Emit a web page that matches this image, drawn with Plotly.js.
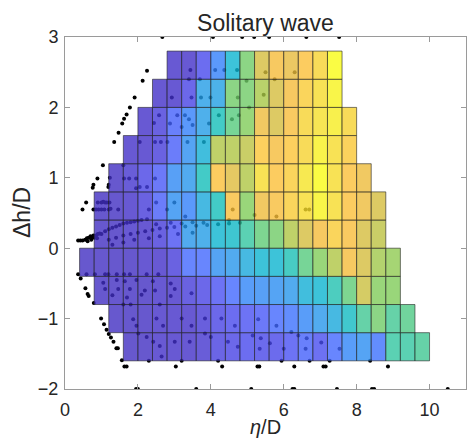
<!DOCTYPE html>
<html><head><meta charset="utf-8">
<script src="https://cdn.plot.ly/plotly-3.0.1.min.js"></script>
<style>html,body{margin:0;padding:0;background:#fff}#chart{width:467px;height:439px}</style>
</head><body><div id="chart"></div>
<script>
// ---- data ----
const xBinCenters = [0.6,1.0,1.4,1.8,2.2,2.6,3.0,3.4,3.8,4.2,4.6,5.0,5.4,5.8,6.2,6.6,7.0,7.4,7.8,8.2,8.6,9.0,9.4,9.8];
const yBinCenters = [-1.4,-1.0,-0.6,-0.2,0.2,0.6,1.0,1.4,1.8,2.2,2.6];
const N = null;
const cellValues = [
  [N,N,N,0.04,0.04,0.05,0.05,0.05,0.06,0.09,0.1,0.12,0.11,0.11,0.14,0.18,0.13,0.2,0.26,0.28,0.22,0.5,0.5,0.52],
  [N,N,0.04,0.04,0.04,0.05,0.05,0.05,0.07,0.1,0.12,0.14,0.16,0.2,0.22,0.26,0.3,0.36,0.43,0.52,0.58,0.52,0.54,N],
  [N,0.04,0.04,0.04,0.04,0.05,0.05,0.08,0.1,0.14,0.2,0.26,0.27,0.28,0.3,0.38,0.4,0.47,0.56,0.7,0.6,0.6,N,N],
  [0.04,0.04,0.04,0.04,0.05,0.05,0.08,0.2,0.2,0.28,0.3,0.36,0.4,0.4,0.46,0.55,0.6,0.66,0.8,0.72,0.64,0.62,N,N],
  [N,0.04,0.04,0.05,0.05,0.08,0.14,0.3,0.32,0.4,0.42,0.5,0.56,0.58,0.66,0.72,0.8,0.88,0.82,0.72,0.68,N,N,N],
  [N,0.04,0.04,0.05,0.08,0.17,0.28,0.25,0.36,0.45,0.82,0.6,0.78,0.82,0.88,0.92,0.98,0.92,0.84,0.78,0.72,N,N,N],
  [N,N,0.04,0.06,0.1,0.16,0.27,0.3,0.45,0.84,0.74,0.66,0.92,0.84,0.88,0.94,1.0,0.92,0.84,0.78,N,N,N,N],
  [N,N,N,0.05,0.05,0.08,0.17,0.28,0.38,0.66,0.66,0.68,0.86,0.8,0.86,0.9,0.97,0.92,0.87,N,N,N,N,N],
  [N,N,N,N,0.05,0.08,0.18,0.25,0.32,0.45,0.55,0.6,0.78,0.72,0.82,0.9,0.93,0.96,0.9,N,N,N,N,N],
  [N,N,N,N,N,0.05,0.05,0.1,0.32,0.33,0.58,0.58,0.65,0.72,0.8,0.88,0.92,0.98,N,N,N,N,N,N],
  [N,N,N,N,N,N,0.05,0.05,0.12,0.25,0.4,0.58,0.72,0.8,0.76,0.84,0.9,1.0,N,N,N,N,N,N]
];
const dotX = [
  2.67,4.06,4.86,5.19,5.6,6.62,7.52,
  1.95,2.0,3.6,5.11,6.24,6.29,7.46,8.42,8.48,10.5,
  1.63,1.69,3.04,4.31,5.28,5.33,6.29,7.09,7.15,8.86,
  2.25,2.13,1.91,1.78,1.69,1.62,1.57,1.47,1.35,1.04,0.89,0.78,0.76,0.58,0.48,
  0.9,1.0,1.05,1.1,1.15,1.22,
  0.78,0.85,0.92,1.0,1.08,1.2,1.25,1.46,
  1.23,1.19,1.2,1.6,1.62,1.76,1.95,
  0.36,0.42,0.48,0.55,0.6,0.65,0.7,0.75,0.8,0.85,0.9,0.95,0.72,0.62,0.78,0.88,
  0.36,0.43,0.56,0.62,0.65,0.79,0.99,1.07,1.14,1.2,1.26,1.33,1.41,1.45,1.56,
  0.59,0.82,1.1,1.19,1.42,1.62,1.78,2.24,2.56,
  1.1,1.46,1.78,2.19,2.47,3.01,3.47,1.05,1.42,1.64,1.96,2.41,2.9,1.3,1.7,2.1,2.9,
  1.87,2.51,3.2,3.84,4.29,1.96,2.69,3.47,4.66,5.3,5.8,1.6,2.6,1.8,
  2.01,2.24,2.42,2.6,3.01,3.42,3.84,4.0,4.47,4.74,2.65,5.15,5.37,5.62,6.21,6.4,6.63,7.03,7.53,5.34,6.0,6.6,5.94,6.71,7.26,8.37,3.2,4.2,2.3,
  1.0,1.1,1.2,1.3,1.4,1.5,1.6,1.7,1.8,1.9,2.0,2.1,2.25,
  1.2,1.4,1.6,1.8,2.0,2.2,2.4,2.6,2.8,3.0,3.3,3.6,3.9,4.2,4.5,4.8,2.5,2.9,3.2,3.5,3.8,
  1.3,1.6,1.9,2.3,2.6,3.1,3.5,
  2.8,3.3,3.0,2.5,2.3,4.6,5.2,6.6,6.7,4.5,5.8,
  3.44,4.12,4.37,4.72,5.5,6.3,2.93,3.47,3.73,3.99,4.74,5.05,4.98,5.75,3.4,3.7,5.45,
  2.58,2.44,2.88,3.08,3.29,3.4,3.2,3.5,4.22,4.77,4.58,3.95,
  2.05,2.47,2.63,2.81,3.36,3.81,2.47,2.05,2.25,1.95
];
const dotY = [
  3,3,3,3,3,3,3,
  -2,-2,-2,-2,-2,-2,-2,-2,-2,-2,
  -1.68,-1.68,-1.68,-1.68,-1.68,-1.68,-1.68,-1.68,-1.68,-1.68,
  2.52,2.38,2.14,2.0,1.9,1.84,1.77,1.64,1.51,1.18,0.99,0.9,0.86,0.65,0.55,
  0.65,0.65,0.66,0.65,0.65,0.65,
  0.55,0.55,0.55,0.55,0.55,0.55,0.56,0.55,
  1.0,0.87,0.9,1.18,0.99,0.99,0.99,
  0.11,0.11,0.11,0.12,0.14,0.15,0.17,0.16,0.15,0.18,0.2,0.21,0.12,0.1,0.18,0.14,
  -0.37,-0.43,-0.57,-0.65,-0.68,-0.78,-1.0,-1.08,-1.16,-1.22,-1.27,-1.33,-1.42,-1.42,-1.59,
  -0.37,-0.37,-0.37,-0.37,-0.37,-0.37,-0.37,-0.37,-0.37,
  -0.58,-0.58,-0.58,-0.6,-0.6,-0.58,-0.64,-0.49,-0.45,-0.47,-0.45,-0.47,-0.5,-0.67,-0.7,-0.66,-0.68,
  -1.01,-1.0,-1.0,-1.0,-1.0,-1.1,-1.1,-1.1,-1.1,-1.01,-1.1,-0.8,-0.8,-0.8,
  -1.21,-1.26,-1.33,-1.39,-1.33,-1.33,-1.21,-1.26,-1.33,-1.4,-1.54,-1.24,-1.28,-1.35,-1.19,-1.24,-1.28,-1.34,-1.43,-1.43,-1.43,-1.43,-1.6,-1.6,-1.6,-1.6,-1.6,-1.6,-1.6,
  0.2,0.24,0.27,0.29,0.31,0.33,0.35,0.36,0.37,0.38,0.39,0.4,0.41,
  0.12,0.15,0.18,0.2,0.22,0.24,0.26,0.28,0.29,0.3,0.31,0.32,0.33,0.34,0.35,0.36,0.34,0.36,0.35,0.37,0.36,
  0.05,0.08,0.12,0.14,0.17,0.2,0.22,
  0.55,0.45,0.65,0.65,0.55,0.55,0.47,0.55,0.55,0.4,0.45,
  2.53,2.53,2.53,2.53,2.5,2.5,2.14,2.14,2.14,2.14,2.14,2.0,2.38,2.4,2.4,2.4,2.18,
  1.89,1.78,1.77,1.89,1.89,1.83,1.72,1.75,1.89,1.89,1.83,1.77,
  1.51,1.51,1.51,1.51,1.51,1.51,0.99,0.87,0.87,0.85
];
const xTickVals = [0,2,4,6,8,10];
const yTickVals = [-2,-1,0,1,2,3];
const titleText = 'Solitary wave';
const xTitle = '<i>η</i>/D';
const yTitle = 'Δh/D';

// ---- parula colormap ----
const parulaStops = [
  [0.00,[62,38,168]],[0.05,[66,48,200]],[0.10,[71,66,229]],[0.15,[72,84,246]],
  [0.20,[66,104,254]],[0.25,[50,127,250]],[0.30,[39,150,235]],[0.35,[28,165,222]],
  [0.40,[12,180,207]],[0.45,[20,190,185]],[0.50,[50,197,160]],[0.55,[85,202,125]],
  [0.60,[128,204,89]],[0.65,[168,199,70]],[0.70,[203,191,62]],[0.75,[228,186,60]],
  [0.80,[245,187,58]],[0.85,[253,192,56]],[0.90,[246,210,48]],[0.95,[245,232,36]],
  [1.00,[249,251,21]]
];
function parula(t){
  t = Math.max(0, Math.min(1, t));
  for (let k = 1; k < parulaStops.length; k++) {
    const [t1, c1] = parulaStops[k];
    const [t0, c0] = parulaStops[k-1];
    if (t <= t1) {
      const f = (t - t0) / (t1 - t0);
      return c0.map((c, i) => Math.round(c + f * (c1[i] - c)));
    }
  }
  return parulaStops[parulaStops.length-1][1];
}

const cellW = xBinCenters[1] - xBinCenters[0];
const cellH = yBinCenters[1] - yBinCenters[0];
const traces = [{
  type:'scatter', mode:'markers', x:dotX, y:dotY,
  marker:{color:'#000', size:4}, hoverinfo:'skip', showlegend:false
}];
cellValues.forEach((row, j) => row.forEach((v, i) => {
  if (v === null) return;
  const x0 = xBinCenters[i] - cellW/2, x1 = xBinCenters[i] + cellW/2;
  const y0 = yBinCenters[j] - cellH/2, y1 = yBinCenters[j] + cellH/2;
  const c = parula(v);
  traces.push({
    type:'scatter', mode:'lines', fill:'toself',
    x:[x0,x1,x1,x0,x0], y:[y0,y0,y1,y1,y0],
    fillcolor:`rgba(${c[0]},${c[1]},${c[2]},0.8)`,
    line:{color:'rgba(35,35,35,0.6)', width:1},
    hoverinfo:'skip', showlegend:false
  });
}));

const fontFam = '"Liberation Sans", Arial, sans-serif';
const titleFont = {family:fontFam, size:23, color:'#262626'};
const axisCommon = {
  showgrid:false, zeroline:false, showline:true, linecolor:'#9a9a9a', linewidth:1,
  mirror:'allticks', ticks:'inside', ticklen:5, tickcolor:'#9a9a9a',
  tickfont:{family:fontFam, size:18, color:'#262626'}, automargin:false
};
const layout = {
  width:467, height:439,
  margin:{l:65, r:1, t:37, b:50},
  paper_bgcolor:'#fff', plot_bgcolor:'#fff',
  showlegend:false,
  font:{family:fontFam, color:'#262626'},
  title:{text:titleText, font:titleFont,
         x:0.5, xref:'paper', y:1-23/439, yref:'container', yanchor:'middle'},
  xaxis:Object.assign({}, axisCommon, {range:[0,11], tickvals:xTickVals, ticklabelstandoff:4}),
  yaxis:Object.assign({}, axisCommon, {range:[-2,3], tickvals:yTickVals, ticklabelstandoff:2}),
  annotations:[
    {text:xTitle, font:{family:fontFam, size:20, color:'#262626'}, showarrow:false,
     xref:'paper', yref:'paper', x:0.5, y:-38/352, xanchor:'center', yanchor:'middle'},
    {text:yTitle, font:titleFont, showarrow:false, xref:'paper', yref:'paper', textangle:-90,
     x:-43/401, y:0.5, xanchor:'center', yanchor:'middle'}
  ]
};
Plotly.newPlot('chart', traces, layout, {staticPlot:true, displayModeBar:false});
</script>
</body></html>
